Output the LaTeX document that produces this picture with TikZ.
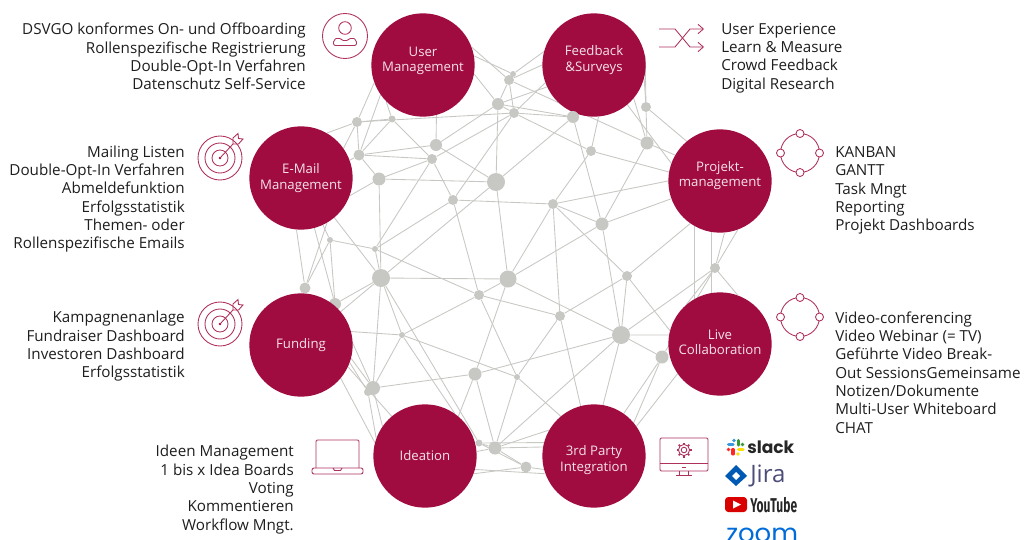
\documentclass[tikz,border=0pt]{standalone}
\usepackage{fontspec}
\setmainfont{Open Sans}
\usepackage{xcolor}
\usepackage{tikz}
\usetikzlibrary{positioning}
\usetikzlibrary{backgrounds}
\usetikzlibrary{arrows.meta}
\definecolor{wine}{HTML}{A00B40}
\definecolor{netgray}{HTML}{C7C8C3}
\definecolor{textgray}{HTML}{1E1E1E}
\tikzset{
    hubnode/.style = {circle, fill=wine, inner sep=0pt, minimum size=77.5pt},
    hublabel/.style = {align=center, text=white!88!wine, inner sep=0pt, font=\fontsize{9.9}{11.6}\selectfont},
    netnode/.style = {circle, fill=netgray, inner sep=0pt, minimum size=#1*0.75pt},
    listl/.style = {anchor=west, align=left, inner sep=0pt, text=textgray, font=\fontsize{11.4}{13.75}\selectfont},
    listr/.style = {anchor=east, align=right, inner sep=0pt, text=textgray, font=\fontsize{11.4}{13.75}\selectfont},
    edgen/.style = {-, draw=netgray, line width=0.65pt},
    iconline/.style = {draw=wine!85, line width=0.65pt},
    logotext/.style = {inner sep=0pt, anchor=west},
}
\begin{document}
\begin{tikzpicture}[x=0.75pt,y=-0.75pt]
\useasboundingbox (0,0) rectangle (1024,539);
% network points behind the hubs
\node[netnode=11] at (305,288) (n17) {};
\node[netnode=12] at (335,304) (n26) {};
% hubs
\node[hubnode] at (423,65) (user) {};
\node[hubnode] at (594,65) (feedback) {};
\node[hubnode] at (720,181) (projekt) {};
\node[hubnode] at (720,344) (live) {};
\node[hubnode] at (594,456) (party) {};
\node[hubnode] at (425,456) (ideation) {};
\node[hubnode] at (301,345) (funding) {};
\node[hubnode] at (301,178) (email) {};
\node[hublabel] at (423,61) (userl) {User\\Management};
\node[hublabel] at (594,60) (feedbackl) {Feedback\\\&Surveys};
\node[hublabel] at (720,175.5) (projektl) {Projekt-\\management};
\node[hublabel] at (720,342) (livel) {Live\\Collaboration};
\node[hublabel] at (594,460) (partyl) {3rd Party\\Integration};
\node[hublabel] at (425,456) (ideationl) {Ideation};
\node[hublabel] at (301,345) (fundingl) {Funding};
\node[hublabel] at (301,178) (emaill) {E-Mail\\Management};
% network points
\node[netnode=10] at (357,122) (n1) {};
\node[netnode=7] at (392,119) (n2) {};
\node[netnode=10] at (509,80) (n3) {};
\node[netnode=6] at (513,74) (n4) {};
\node[netnode=12] at (498,104) (n5) {};
\node[netnode=10] at (514,113) (n6) {};
\node[netnode=12] at (436,145) (n7) {};
\node[netnode=10] at (432,159) (n8) {};
\node[netnode=11] at (359,155) (n9) {};
\node[netnode=13] at (379,179) (n10) {};
\node[netnode=18] at (496,182) (n11) {};
\node[netnode=10] at (453,200) (n12) {};
\node[netnode=6] at (330,240) (n13) {};
\node[netnode=6] at (375,249) (n14) {};
\node[netnode=18] at (381,278) (n15) {};
\node[netnode=17] at (508,279) (n16) {};
\node[netnode=12] at (573,117) (n18) {};
\node[netnode=10] at (646,107) (n19) {};
\node[netnode=13] at (647,143) (n20) {};
\node[netnode=10] at (591,151) (n21) {};
\node[netnode=10] at (553,204) (n22) {};
\node[netnode=13] at (602,224) (n23) {};
\node[netnode=10] at (627,276) (n24) {};
\node[netnode=10] at (715,268) (n25) {};
\node[netnode=10] at (479,295) (n27) {};
\node[netnode=6] at (402,335) (n28) {};
\node[netnode=14] at (373,388) (n29) {};
\node[netnode=8] at (368,392) (n30) {};
\node[netnode=13] at (475,374) (n31) {};
\node[netnode=6] at (517,377) (n32) {};
\node[netnode=7] at (479,443) (n33) {};
\node[netnode=13] at (495,448) (n34) {};
\node[netnode=10] at (560,316) (n35) {};
\node[netnode=18] at (621,335) (n36) {};
\node[netnode=13] at (662,357) (n37) {};
\node[netnode=11] at (526,467) (n38) {};
% lists
\node[listr] at (306,56.5) (listuser) {DSVGO konformes On- und Offboarding\\Rollenspezifische Registrierung\\Double-Opt-In Verfahren\\Datenschutz Self-Service};
\node[listr] at (185,199) (listemail) {Mailing Listen\\Double-Opt-In Verfahren\\Abmeldefunktion\\Erfolgsstatistik\\Themen- oder\\Rollenspezifische Emails};
\node[listr] at (185,346.5) (listfunding) {Kampagnenanlage\\Fundraiser Dashboard\\Investoren Dashboard\\Erfolgsstatistik};
\node[listr] at (294,489.5) (listideation) {Ideen Management\\1 bis x Idea Boards\\Voting\\Kommentieren\\Workflow Mngt.};
\node[listl] at (721,58) (listfeedback) {User Experience\\Learn \& Measure\\Crowd Feedback\\Digital Research};
\node[listl] at (835,190.5) (listprojekt) {KANBAN\\GANTT\\Task Mngt\\Reporting\\Projekt Dashboards};
\node[listl] at (835,372.5) (listlive) {Video-conferencing\\Video Webinar (= TV)\\Geführte Video Break-\\Out SessionsGemeinsame\\Notizen/Dokumente\\Multi-User Whiteboard\\CHAT};
% logos
\node[logotext,font=\fontspec{Poppins}\bfseries\fontsize{12.8}{14}\selectfont,text=black!85] at (747,447) (slack) {slack};
\node[logotext,font=\fontspec{Open Sans}\fontsize{18}{14}\selectfont,text=blue!25!black!70!white] at (750,476) (jira) {Jira};
\node[logotext,font=\fontspec{Fira Sans}\bfseries\fontsize{15}{14}\selectfont,text=black!85] at (750,505) (youtube) {\scalebox{.6}[1]{YouTube}};
\node[logotext,font=\fontspec{Poppins}\fontsize{19.5}{14}\selectfont,text=blue!50!cyan!85!black] at (726,535) (zoomlogo) {zoom};
% connectors
\begin{scope}[on background layer]
\draw[edgen] (n1) to (n2);
\draw[edgen] (n1) to (user.200);
\draw[edgen] (n1) to (n6);
\draw[edgen] (n2) to (user.225);
\draw[edgen] (n1) to (n9);
\draw[edgen] (n1) to (email.60);
\draw[edgen] (n1) to (email.35);
\draw[edgen] (n9) to (n2);
\draw[edgen] (n9) to (user.215);
\draw[edgen] (n9) to (n7);
\draw[edgen] (n9) to (n8);
\draw[edgen] (n9) to (n10);
\draw[edgen] (n9) to (email.20);
\draw[edgen] (n2) to (n8);
\draw[edgen] (n7) to (user.285);
\draw[edgen] (n7) to (n5);
\draw[edgen] (n7) to (n11);
\draw[edgen] (n8) to (n6);
\draw[edgen] (n8) to (n12);
\draw[edgen] (n8) to (n14);
\draw[edgen] (n10) to (n11);
\draw[edgen] (n10) to (n8);
\draw[edgen] (n10) to (n15);
\draw[edgen] (n10) to (email.340);
\draw[edgen] (n11) to (n5);
\draw[edgen] (n11) to (n18);
\draw[edgen] (n11) to (n16);
\draw[edgen] (n11) to (n15);
\draw[edgen] (n12) to (n14);
\draw[edgen] (n12) to (n22);
\draw[edgen] (n12) to (n27);
\draw[edgen] (n12) to (n6);
\draw[edgen] (n14) to (n15);
\draw[edgen] (n13) to (n14);
\draw[edgen] (n14) to (n27);
\draw[edgen] (n15) to (n16);
\draw[edgen] (email.295) to (n13);
\draw[edgen] (n13) to (n17);
\draw[edgen] (n13) to (n26);
\draw[edgen] (email.285) to (n26);
\draw[edgen] (email.265) to (n17);
\draw[edgen] (email.300) to (n17);
\draw[edgen] (email.310) to (n15);
\draw[edgen] (n15) to (n26);
\draw[edgen] (funding.40) to (n15);
\draw[edgen] (n15) to (n29);
\draw[edgen] (n15) to (n28);
\draw[edgen] (n15) to (n33);
\draw[edgen] (n28) to (n29);
\draw[edgen] (n28) to (funding.15);
\draw[edgen] (n28) to (n27);
\draw[edgen] (n28) to (n32);
\draw[edgen] (n28) to (ideation.55);
\draw[edgen] (n16) to (n27);
\draw[edgen] (n27) to (n35);
\draw[edgen] (n27) to (n32);
\draw[edgen] (n16) to (n31);
\draw[edgen] (n31) to (n29);
\draw[edgen] (n31) to (n34);
\draw[edgen] (n32) to (n34);
\draw[edgen] (n31) to (ideation.50);
\draw[edgen] (n31) to (n36);
\draw[edgen] (n32) to (party.130);
\draw[edgen] (n32) to (n35);
\draw[edgen] (n35) to (n24);
\draw[edgen] (n35) to (party.105);
\draw[edgen] (n16) to (n36);
\draw[edgen] (n36) to (n24);
\draw[edgen] (n36) to (n23);
\draw[edgen] (n36) to (n37);
\draw[edgen] (n36) to (party.80);
\draw[edgen] (n36) to (n34);
\draw[edgen] (n36) to (live.170);
\draw[edgen] (n37) to (party.55);
\draw[edgen] (n37) to (party.40);
\draw[edgen] (live.215) to (party.35);
\draw[edgen] (n24) to (live.165);
\draw[edgen] (n24) to (projekt.235);
\draw[edgen] (n23) to (n20);
\draw[edgen] (n23) to (projekt.200);
\draw[edgen] (n23) to (n22);
\draw[edgen] (n23) to (n18);
\draw[edgen] (n16) to (n23);
\draw[edgen] (n22) to (projekt.180);
\draw[edgen] (n22) to (n21);
\draw[edgen] (n22) to (n16);
\draw[edgen] (n22) to (n24);
\draw[edgen] (n22) to (n35);
\draw[edgen] (n21) to (feedback.275);
\draw[edgen] (n21) to (projekt.170);
\draw[edgen] (n6) to (n21);
\draw[edgen] (n5) to (n18);
\draw[edgen] (n6) to (n18);
\draw[edgen] (n3) to (n20);
\draw[edgen] (feedback.320) to (n20);
\draw[edgen] (feedback.345) to (n19);
\draw[edgen] (feedback.10) to (n19);
\draw[edgen] (n19) to (n20);
\draw[edgen] (n19) to (projekt.130);
\draw[edgen] (n20) to (projekt.150);
\draw[edgen] (feedback.310) to (projekt.160);
\draw[edgen] (projekt.290) to (n25);
\draw[edgen] (projekt.275) to (n25);
\draw[edgen] (projekt.240) to (live.120);
\draw[edgen] (projekt.260) to (live.100);
\draw[edgen] (live.70) to (n25);
\draw[edgen] (live.130) to (n25);
\draw[edgen] (n37) to (n25);
\draw[edgen] (n36) to (n25);
\draw[edgen] (n3) to (user.20);
\draw[edgen] (n3) to (n5);
\draw[edgen] (n3) to (n6);
\draw[edgen] (n4) to (n3);
\draw[edgen] (n4) to (feedback.165);
\draw[edgen] (n3) to (feedback.180);
\draw[edgen] (n4) to (user.10);
\draw[edgen] (n5) to (user.350);
\draw[edgen] (n5) to (n6);
\draw[edgen] (n5) to (feedback.205);
\draw[edgen] (n6) to (feedback.200);
\draw[edgen] (funding.345) to (n29);
\draw[edgen] (funding.340) to (n30);
\draw[edgen] (funding.320) to (ideation.165);
\draw[edgen] (funding.335) to (ideation.130);
\draw[edgen] (n29) to (ideation.145);
\draw[edgen] (n30) to (ideation.160);
\draw[edgen] (n17) to (funding.90);
\draw[edgen] (n26) to (funding.45);
\draw[edgen] (n26) to (n29);
\draw[edgen] (n33) to (n34);
\draw[edgen] (n33) to (party.165);
\draw[edgen] (n34) to (party.170);
\draw[edgen] (n34) to (party.150);
\draw[edgen] (n34) to (n38);
\draw[edgen] (n33) to (n38);
\draw[edgen] (ideation.340) to (n38);
\draw[edgen] (ideation.5) to (n34);
\draw[edgen] (ideation.15) to (n33);
\draw[edgen] (ideation.345) to (party.200);
\draw[edgen] (party.195) to (n38);
\end{scope}
% user icon
\draw[iconline] (345,36) circle (22.5);
\draw[iconline] (345,28) circle (6.3);
\draw[iconline,rounded corners=1.5pt] (333.5,45.5) -- (333.5,40) -- (338,37.5) -- (345,41.5) -- (352,37.5) -- (356.5,40) -- (356.5,45.5) -- cycle;
% shuffle icon
\draw[iconline,-{Straight Barb[length=4pt,width=7pt]}] (659,29) -- (675,29) -- (690,47) -- (704,47);
\draw[iconline,-{Straight Barb[length=4pt,width=7pt]}] (659,47) -- (675,47) -- (690,29) -- (704,29);
% target icons
\draw[iconline] (220,158) circle (22);
\draw[iconline] (220,158) circle (15);
\draw[iconline] (220,158) circle (8);
\fill[wine] (220,158) circle (1.3);
\draw[iconline] (220,158) -- (233,144);
\draw[iconline] (233,144) -- (233,138) -- (238,133.5) -- (238.5,138.5) -- (243,139) -- (238.5,144) -- cycle;
\draw[iconline] (220,324) circle (22);
\draw[iconline] (220,324) circle (15);
\draw[iconline] (220,324) circle (8);
\fill[wine] (220,324) circle (1.3);
\draw[iconline] (220,324) -- (233,310);
\draw[iconline] (233,310) -- (233,304) -- (238,299.5) -- (238.5,304.5) -- (243,305) -- (238.5,310) -- cycle;
% cycle icons
\draw[iconline] (800,153) circle (19.5);
\node[circle,iconline,fill=white,inner sep=0pt,minimum size=6pt] at (800,133.5) (ca) {};
\node[circle,iconline,fill=white,inner sep=0pt,minimum size=6pt] at (819.5,153) (cb) {};
\node[circle,iconline,fill=white,inner sep=0pt,minimum size=6pt] at (800,172.5) (cc) {};
\node[circle,iconline,fill=white,inner sep=0pt,minimum size=6pt] at (780.5,153) (cd) {};
\draw[iconline] (800,317) circle (19.5);
\node[circle,iconline,fill=white,inner sep=0pt,minimum size=6pt] at (800,297.5) (da) {};
\node[circle,iconline,fill=white,inner sep=0pt,minimum size=6pt] at (819.5,317) (db) {};
\node[circle,iconline,fill=white,inner sep=0pt,minimum size=6pt] at (800,336.5) (dc) {};
\node[circle,iconline,fill=white,inner sep=0pt,minimum size=6pt] at (780.5,317) (dd) {};
% laptop icon
\draw[iconline,rounded corners=1pt] (316,468) -- (316,440) -- (359,440) -- (359,468);
\draw[iconline,rounded corners=1.5pt] (312,468) -- (363,468) -- (363,474) -- (312,474) -- cycle;
\draw[iconline] (333,468) -- (334.5,470.5) -- (340.5,470.5) -- (342,468);
% monitor icon
\draw[iconline,rounded corners=1pt] (660,438) rectangle (708,471);
\draw[iconline] (660,463) -- (708,463);
\draw[iconline] (682,467) -- (686,467);
\draw[iconline] (679,471) -- (679,475);
\draw[iconline] (688,471) -- (688,475);
\draw[iconline] (676,475) -- (692,475);
\draw[iconline] (684,450) circle (2.8);
\draw[iconline] (684,450) circle (5.6);
\foreach \a in {0,45,...,315}
    \draw[iconline,line width=1.2pt] (684,450) ++(\a:5.6) -- ++(\a:1.9);
% slack mark
\draw[line width=2.3pt,line cap=round,draw=cyan!70!blue!80] (728.5,444.5) -- (733,444.5);
\fill[cyan!70!blue!80] (734,440.5) circle (1.9);
\draw[line width=2.3pt,line cap=round,draw=green!50!black!80] (738.5,440.5) -- (738.5,445);
\fill[green!50!black!80] (742.5,444.5) circle (1.9);
\draw[line width=2.3pt,line cap=round,draw=yellow!80!orange] (738.5,449.5) -- (743,449.5);
\fill[yellow!80!orange] (738,454) circle (1.9);
\draw[line width=2.3pt,line cap=round,draw=red!80!pink] (733,449.5) -- (733,454);
\fill[red!80!pink] (728.5,449.5) circle (1.9);
% jira mark
\fill[blue!50!cyan!70!black] (736,465) -- (747,476) -- (736,486) -- (725,476) -- cycle;
\fill[white] (736,472) -- (740,476) -- (736,480) -- (732,476) -- cycle;
% youtube mark
\fill[red!85!black,rounded corners=2.5pt] (725,497) rectangle (747,512);
\fill[white] (733,500.5) -- (741,504.5) -- (733,508.5) -- cycle;
\end{tikzpicture}
\end{document}
